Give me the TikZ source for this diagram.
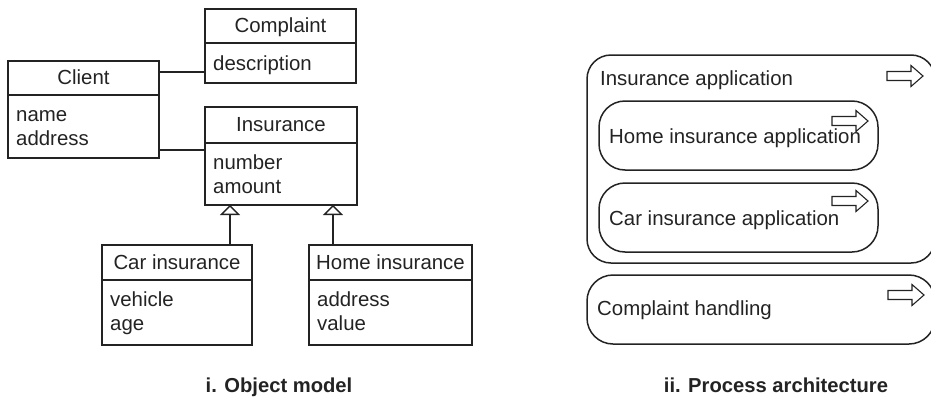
\documentclass[tikz,border=0pt]{standalone}
\usepackage{fontspec}
\setmainfont{Liberation Sans}
\usetikzlibrary{arrows.meta}
\definecolor{ink}{RGB}{35,35,35}
\begin{document}
\begin{tikzpicture}[x=1pt,y=-1pt,font=\fontsize{20.4}{24}\selectfont,
  cls/.style={draw=ink,line width=1.5pt,anchor=north west,inner sep=0pt,outer sep=0pt},
  proc/.style={draw=ink,line width=1.5pt,anchor=north west,inner sep=0pt,outer sep=0pt,rounded corners=24pt},
  txt/.style={anchor=base west,inner sep=0pt,text=ink},
  hd/.style={anchor=base,inner sep=0pt,text=ink},
  ttl/.style={anchor=base,inner sep=0pt,text=ink,font=\fontsize{20.2}{24}\selectfont\bfseries},
  ln/.style={draw=ink,line width=1.5pt},
  gen/.style={ln,-{Triangle[open,length=10pt,width=20pt,line width=1.3pt,fill=white]}},
  blockarrow/.pic={\draw[draw=ink,line width=1.1pt,line join=miter,fill=white]
     (0,-4.5) -- (24,-4.5) -- (24,-10.5) -- (36,0) -- (24,10.5) -- (24,4.5) -- (0,4.5) -- cycle;}]
\useasboundingbox (0,0) rectangle (931,399);

% ---------- Object model ----------
\node[cls,minimum width=151pt,minimum height=74pt] (complaint) at (205,9) {};
\draw[ln] (complaint.west |- 0,43) -- (complaint.east |- 0,43);
\node[hd] (complaintH) at (complaint.north |- 0,32) {Complaint};
\node[txt] (complaintA) at (213,70) {description};

\node[cls,minimum width=151pt,minimum height=97pt] (client) at (8,61) {};
\draw[ln] (client.west |- 0,95) -- (client.east |- 0,95);
\node[hd] (clientH) at (client.north |- 0,84) {Client};
\node[txt] (clientA) at (16,121) {name};
\node[txt] (clientB) at (16,145) {address};

\node[cls,minimum width=152pt,minimum height=98pt] (insurance) at (205,107) {};
\draw[ln] (insurance.west |- 0,143) -- (insurance.east |- 0,143);
\node[hd] (insuranceH) at (insurance.north |- 0,131) {Insurance};
\node[txt] (insuranceA) at (213,169) {number};
\node[txt] (insuranceB) at (213,193) {amount};

\node[cls,minimum width=150pt,minimum height=100pt] (car) at (102,245) {};
\draw[ln] (car.west |- 0,280) -- (car.east |- 0,280);
\node[hd] (carH) at (car.north |- 0,269) {Car insurance};
\node[txt] (carA) at (110,306) {vehicle};
\node[txt] (carB) at (110,330) {age};

\node[cls,minimum width=163pt,minimum height=100pt] (home) at (309,245) {};
\draw[ln] (home.west |- 0,280) -- (home.east |- 0,280);
\node[hd] (homeH) at (home.north |- 0,269) {Home insurance};
\node[txt] (homeA) at (317,306) {address};
\node[txt] (homeB) at (317,330) {value};

\draw[ln] (client.east |- 0,72) -- (complaint.west |- 0,72);
\draw[ln] (client.east |- 0,150) -- (insurance.west |- 0,150);
\draw[gen] (car.north -| 230,0) -- (insurance.south -| 230,0);
\draw[gen] (home.north -| 333,0) -- (insurance.south -| 333,0);

\node[ttl] (t1) at (279,392) {i. Object model};

% ---------- Process architecture ----------
\node[proc,minimum width=348pt,minimum height=208pt] (ia) at (587,55) {};
\node[txt] (iaT) at (600,85) {Insurance application};
\pic at (887,76) {blockarrow};

\node[proc,minimum width=279pt,minimum height=69pt,rounded corners=26pt] (hia) at (599,101) {};
\node[txt] (hiaT) at (609,143) {Home insurance application};
\pic at (832,121) {blockarrow};

\node[proc,minimum width=279pt,minimum height=69pt,rounded corners=26pt] (cia) at (599,183) {};
\node[txt] (ciaT) at (609,225) {Car insurance application};
\pic at (832,201) {blockarrow};

\node[proc,minimum width=348pt,minimum height=69pt,rounded corners=26pt] (ch) at (587,275) {};
\node[txt] (chT) at (597,315) {Complaint handling};
\pic at (888,295) {blockarrow};

\node[ttl] (t2) at (776,392) {ii. Process architecture};
\end{tikzpicture}
\end{document}
